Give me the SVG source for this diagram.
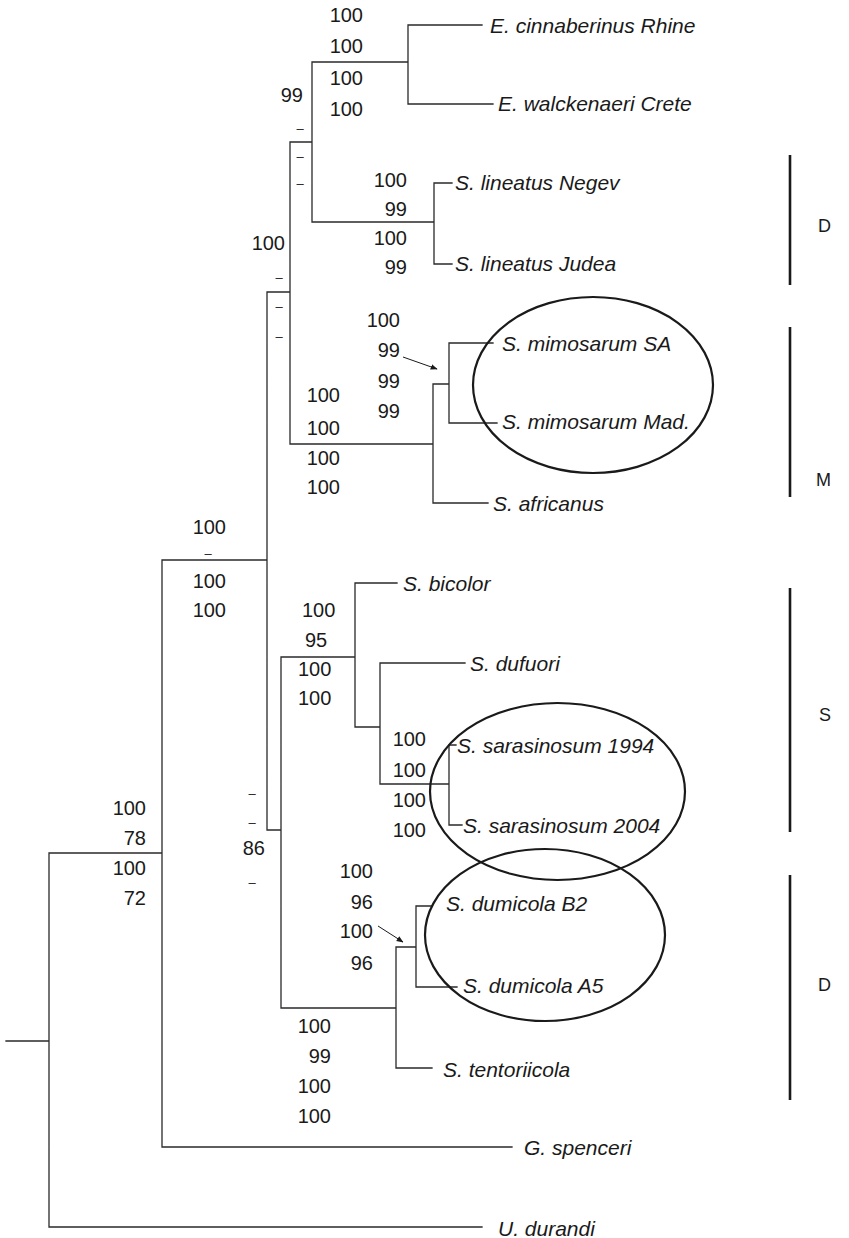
<svg xmlns="http://www.w3.org/2000/svg" width="849" height="1238" viewBox="0 0 849 1238">
<style>
.br{stroke:#2a2a2a;stroke-width:1.3;fill:none;stroke-linecap:square}
.el{stroke:#1a1a1a;stroke-width:2.2;fill:none}
.bar{stroke:#1a1a1a;stroke-width:2.6}
.tx{font-family:"Liberation Sans",Arial,sans-serif;font-style:italic;font-size:21px;fill:#1a1a1a}
.n{font-family:"Liberation Sans",Arial,sans-serif;font-size:20px;fill:#1a1a1a}
.e{text-anchor:end}
.d{font-family:"Liberation Sans",Arial,sans-serif;font-size:13px;fill:#1a1a1a;text-anchor:middle}
.g{font-family:"Liberation Sans",Arial,sans-serif;font-size:18px;fill:#1a1a1a}
.ar{stroke:#1a1a1a;stroke-width:1;fill:none}
</style>
<defs>
<marker id="ah" viewBox="0 0 10 10" refX="9" refY="5" markerWidth="7" markerHeight="7" markerUnits="userSpaceOnUse" orient="auto"><path d="M0,1 L10,5 L0,9 z" fill="#1a1a1a"/></marker>
</defs>
<g id="connectors">
<path class="br" d="M6,1041H49 M49,853V1227 M49,1227H482 M49,853H162 M162,560V1147 M162,1147H512 M162,560H267 M267,292V830 M267,292H290 M290,142V444 M290,142H312 M312,62V222 M312,62H408 M408,25V104 M408,25H482 M408,104H493 M312,222H434 M434,183V264 M434,183H452 M434,264H452 M290,444H433 M433,384V503 M433,384H449 M449,343V423 M449,343H493 M449,423H497 M433,503H488 M267,830H281 M281,657V1008 M281,657H355 M355,583V727 M355,583H397 M355,727H380 M380,663V784 M380,663H465 M380,784H449 M449,745V825 M449,745H456 M449,825H462 M281,1008H396 M396,947V1068 M396,947H416 M416,906V987 M416,906H432 M416,987H457 M396,1068H432"/>
<line class="ar" x1="403" y1="357" x2="437" y2="369" marker-end="url(#ah)"/>
<line class="ar" x1="378" y1="926" x2="403" y2="942" marker-end="url(#ah)"/>
</g>
<g id="ellipses">
<ellipse class="el" cx="593" cy="385" rx="120" ry="88"/>
<ellipse class="el" cx="557.5" cy="791.5" rx="127.5" ry="88.5"/>
<ellipse class="el" cx="545" cy="935" rx="120" ry="86"/>
</g>
<g id="taxa">
<text class="tx" x="490" y="33">E. cinnaberinus Rhine</text>
<text class="tx" x="498" y="111">E. walckenaeri Crete</text>
<text class="tx" x="455" y="190">S. lineatus Negev</text>
<text class="tx" x="455" y="271">S. lineatus Judea</text>
<text class="tx" x="502" y="351">S. mimosarum SA</text>
<text class="tx" x="502" y="429">S. mimosarum Mad.</text>
<text class="tx" x="493" y="511">S. africanus</text>
<text class="tx" x="403" y="591">S. bicolor</text>
<text class="tx" x="470" y="671">S. dufuori</text>
<text class="tx" x="457" y="753">S. sarasinosum 1994</text>
<text class="tx" x="463" y="833">S. sarasinosum 2004</text>
<text class="tx" x="446" y="911">S. dumicola B2</text>
<text class="tx" x="463" y="993">S. dumicola A5</text>
<text class="tx" x="443" y="1077">S. tentoriicola</text>
<text class="tx" x="524" y="1155">G. spenceri</text>
<text class="tx" x="498" y="1236">U. durandi</text>
</g>
<g id="support">
<text class="n e" x="363" y="22">100</text><text class="n e" x="363" y="53">100</text><text class="n e" x="363" y="85">100</text><text class="n e" x="363" y="116">100</text>
<text class="n e" x="303" y="102">99</text><text class="d" x="300" y="133">–</text><text class="d" x="300" y="161">–</text><text class="d" x="300" y="188">–</text>
<text class="n e" x="407" y="187">100</text><text class="n e" x="407" y="216">99</text><text class="n e" x="407" y="245">100</text><text class="n e" x="407" y="274">99</text>
<text class="n e" x="285" y="250">100</text><text class="d" x="279" y="282">–</text><text class="d" x="279" y="311">–</text><text class="d" x="279" y="341">–</text>
<text class="n e" x="400" y="327">100</text><text class="n e" x="400" y="357">99</text><text class="n e" x="400" y="388">99</text><text class="n e" x="400" y="418">99</text>
<text class="n e" x="340" y="402">100</text><text class="n e" x="340" y="435">100</text><text class="n e" x="340" y="465">100</text><text class="n e" x="340" y="494">100</text>
<text class="n e" x="226" y="534">100</text><text class="d" x="208" y="558">–</text><text class="n e" x="226" y="588">100</text><text class="n e" x="226" y="617">100</text>
<text class="n" x="302" y="617">100</text><text class="n" x="305" y="647">95</text><text class="n" x="298" y="676">100</text><text class="n" x="298" y="705">100</text>
<text class="n e" x="426" y="746">100</text><text class="n e" x="426" y="777">100</text><text class="n e" x="426" y="807">100</text><text class="n e" x="426" y="837">100</text>
<text class="d" x="252" y="798">–</text><text class="d" x="252" y="827">–</text><text class="n e" x="265" y="855">86</text><text class="d" x="252" y="887">–</text>
<text class="n e" x="146" y="815">100</text><text class="n e" x="146" y="845">78</text><text class="n e" x="146" y="875">100</text><text class="n e" x="146" y="905">72</text>
<text class="n e" x="373" y="878">100</text><text class="n e" x="373" y="909">96</text><text class="n e" x="373" y="938">100</text><text class="n e" x="373" y="970">96</text>
<text class="n e" x="331" y="1033">100</text><text class="n e" x="331" y="1063">99</text><text class="n e" x="331" y="1093">100</text><text class="n e" x="331" y="1123">100</text>
</g>
<g id="groups">
<line class="bar" x1="790" y1="155" x2="790" y2="285"/><text class="g" x="818" y="232">D</text>
<line class="bar" x1="790" y1="327" x2="790" y2="497"/><text class="g" x="816" y="486">M</text>
<line class="bar" x1="790" y1="588" x2="790" y2="832"/><text class="g" x="819" y="721">S</text>
<line class="bar" x1="790" y1="875" x2="790" y2="1100"/><text class="g" x="818" y="991">D</text>
</g>
</svg>
